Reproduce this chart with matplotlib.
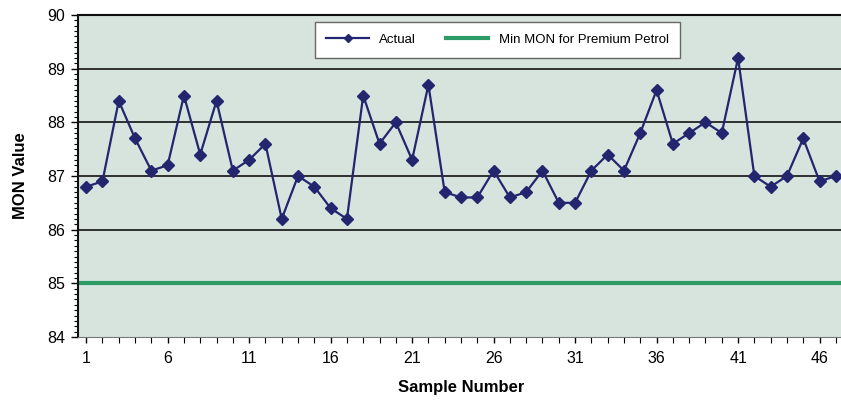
import numpy as np
import matplotlib.pyplot as plt
from matplotlib.ticker import MultipleLocator

plt.rcParams['font.family'] = ['Liberation Sans', 'DejaVu Sans']

samples = np.arange(1, 48)
actual = [86.8, 86.9, 88.4, 87.7, 87.1, 87.2, 88.5, 87.4, 88.4, 87.1,
          87.3, 87.6, 86.2, 87.0, 86.8, 86.4, 86.2, 88.5, 87.6, 88.0,
          87.3, 88.7, 86.7, 86.6, 86.6, 87.1, 86.6, 86.7, 87.1, 86.5,
          86.5, 87.1, 87.4, 87.1, 87.8, 88.6, 87.6, 87.8, 88.0, 87.8,
          89.2, 87.0, 86.8, 87.0, 87.7, 86.9, 87.0]
min_mon = 85.0
xtick_labels = [1, 6, 11, 16, 21, 26, 31, 36, 41, 46]

fig = plt.figure(figsize=(8.41, 4.0), dpi=100)
ax = fig.add_axes([78 / 841, 1 - 337 / 400, (844 - 78) / 841, (337 - 15) / 400])
ax.set_facecolor('#d6e4dd')

for y in range(85, 90):
    ax.axhline(y, color='#222222', lw=1.3, zorder=1)

ax.plot([0.5, 47.5], [min_mon, min_mon], color='#2e9a66', lw=3,
        label='Min MON for Premium Petrol', zorder=2)
ax.plot(samples, actual, color='#23256e', lw=1.6, marker='D', ms=6.5,
        label='Actual', zorder=3)

ax.set_xlim(0.5, 47.5)
ax.set_ylim(84, 90)
ax.set_xticks(xtick_labels)
ax.xaxis.set_minor_locator(MultipleLocator(1))
ax.yaxis.set_major_locator(MultipleLocator(1))
ax.yaxis.set_minor_locator(MultipleLocator(0.1))
ax.tick_params(axis='both', which='major', labelsize=11.5, length=5, width=1)
ax.tick_params(axis='x', which='major', length=4, pad=6)
ax.tick_params(axis='y', which='major', pad=4)
ax.tick_params(axis='y', which='minor', length=3, width=0.8)
ax.tick_params(axis='x', which='minor', length=4, width=0.8)

for side in ['top', 'left']:
    ax.spines[side].set_color('#111111')
    ax.spines[side].set_linewidth(1.5)
ax.spines['bottom'].set_color('#777777')
ax.spines['right'].set_visible(False)

ax.set_xlabel('Sample Number', fontsize=12, fontweight='bold', labelpad=10)
ax.set_ylabel('MON Value', fontsize=12, fontweight='bold', labelpad=14)

handles, labels = ax.get_legend_handles_labels()
leg = ax.legend(handles[::-1], labels[::-1], ncol=2, loc='upper left',
                bbox_to_anchor=((308 - 78) / 766, 1.0, (687 - 308) / 766, 0.0),
                mode='expand', fontsize=9.5, frameon=True, fancybox=False,
                edgecolor='#666666', handlelength=3.2, markerscale=0.6,
                borderpad=0.9, columnspacing=1.5)
leg.get_frame().set_linewidth(1.0)
leg.get_frame().set_facecolor('white')
leg.get_frame().set_alpha(1)

fig.savefig('out.png', dpi=100)
